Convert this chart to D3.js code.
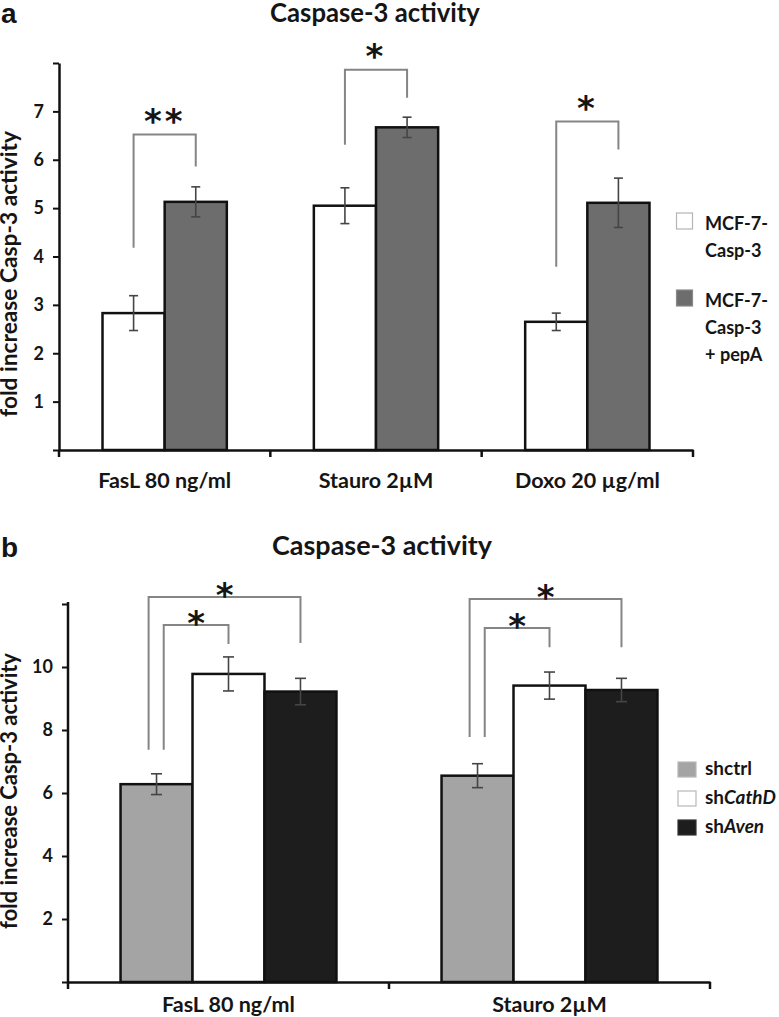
<!DOCTYPE html>
<html><head><meta charset="utf-8">
<script src="https://cdn.jsdelivr.net/npm/d3@7"></script>
<style>body{margin:0;background:#fff} svg{display:block}</style>
</head><body>
<svg id="fig" width="779" height="1017"></svg>
<script>
// ---------- Panel a data ----------
const catsA = ["FasL 80 ng/ml", "Stauro 2µM", "Doxo 20 µg/ml"];
const seriesA = ["MCF-7-Casp-3", "MCF-7-Casp-3 + pepA"];
const legendLinesA = [["MCF-7-", "Casp-3"], ["MCF-7-", "Casp-3", "+ pepA"]];
const meanCasp3 = [2.83, 5.05, 2.65];
const errCasp3 = [0.36, 0.37, 0.18];
const meanPepA = [5.13, 6.67, 5.11];
const errPepA = [0.31, 0.21, 0.51];
const tickValsA = [0, 1, 2, 3, 4, 5, 6, 7, 8];
const tickLabelsA = [1, 2, 3, 4, 5, 6, 7];
const bracketTopA = [6.52, 7.86, 6.79];
const bracketLeftEndA = [4.18, 6.31, 3.79];
const bracketRightEndA = [5.86, 7.28, 6.21];
const starsA = ["**", "*", "*"];

// ---------- Panel b data ----------
const catsB = ["FasL 80 ng/ml", "Stauro 2µM"];
const seriesB = ["shctrl", "shCathD", "shAven"];
const meanShctrl = [6.28, 6.55];
const errShctrl = [0.33, 0.38];
const meanShCathD = [9.78, 9.41];
const errShCathD = [0.54, 0.43];
const meanShAven = [9.22, 9.27];
const errShAven = [0.42, 0.37];
const tickValsB = [0, 2, 4, 6, 8, 10, 12];
const tickLabelsB = [2, 4, 6, 8, 10];
const outerTopB = [12.22, 12.16];
const outerLeftEndB = [7.37, 7.78];
const outerRightEndB = [10.76, 10.63];
const innerTopB = [11.33, 11.24];
const innerLeftEndB = [7.37, 7.78];
const innerRightEndB = [10.73, 10.63];
const starsB = ["*", "*"];

const FONT = "Lato, 'Open Sans', sans-serif";
const TXT = "#151515";
const svg = d3.select("#fig");

function fit(sel, target) {
  const w = sel.node().getComputedTextLength();
  const fs = parseFloat(sel.attr("font-size"));
  const nfs = fs * target / w;
  sel.attr("font-size", nfs);
  return nfs;
}

// ================= PANEL A =================
const yA = d3.scaleLinear().domain([0, 8]).range([450, 63]);
const xA = d3.scaleBand().domain(catsA).range([59, 693]).padding(0);
const x1A = d3.scaleBand().domain(seriesA).range([0, xA.bandwidth()]).paddingInner(0).paddingOuter(0.7);
const fillA = {"MCF-7-Casp-3": "#ffffff", "MCF-7-Casp-3 + pepA": "#6d6d6d"};

const rowsA = catsA.map((c, i) => ({cat: c, vals: [
  {s: seriesA[0], m: meanCasp3[i], e: errCasp3[i]},
  {s: seriesA[1], m: meanPepA[i], e: errPepA[i]}]}));

svg.append("text").attr("x", 1).attr("y", 23).attr("font-family", "'Liberation Sans', Arial, sans-serif")
  .attr("font-weight", "bold").attr("font-size", 28).attr("fill", TXT).text("a");
const titleA = svg.append("text").attr("x", 375).attr("y", 22).attr("text-anchor", "middle")
  .attr("font-family", FONT).attr("font-weight", "bold").attr("font-size", 22).attr("fill", TXT)
  .text("Caspase-3 activity");
fit(titleA, 210);

const gA = svg.append("g");
const grpA = gA.selectAll("g.grp").data(rowsA).join("g").attr("transform", d => `translate(${xA(d.cat)},0)`);
grpA.selectAll("rect").data(d => d.vals).join("rect")
  .attr("x", d => x1A(d.s)).attr("width", x1A.bandwidth())
  .attr("y", d => yA(d.m)).attr("height", d => yA(0) - yA(d.m))
  .attr("fill", d => fillA[d.s]).attr("stroke", "#111").attr("stroke-width", 2.5);
const ebA = grpA.selectAll("g.eb").data(d => d.vals).join("g").attr("class", "eb")
  .attr("stroke", "#454545").attr("stroke-width", 1.6);
ebA.append("line").attr("x1", d => x1A(d.s) + x1A.bandwidth() / 2).attr("x2", d => x1A(d.s) + x1A.bandwidth() / 2)
  .attr("y1", d => yA(d.m + d.e)).attr("y2", d => yA(d.m - d.e));
ebA.append("line").attr("x1", d => x1A(d.s) + x1A.bandwidth() / 2 - 4.5).attr("x2", d => x1A(d.s) + x1A.bandwidth() / 2 + 4.5)
  .attr("y1", d => yA(d.m + d.e)).attr("y2", d => yA(d.m + d.e));
ebA.append("line").attr("x1", d => x1A(d.s) + x1A.bandwidth() / 2 - 4.5).attr("x2", d => x1A(d.s) + x1A.bandwidth() / 2 + 4.5)
  .attr("y1", d => yA(d.m - d.e)).attr("y2", d => yA(d.m - d.e));

// brackets A
catsA.forEach((c, i) => {
  const xl = xA(c) + x1A(seriesA[0]) + x1A.bandwidth() / 2;
  const xr = xA(c) + x1A(seriesA[1]) + x1A.bandwidth() / 2;
  gA.append("path").attr("d", `M${xl},${yA(bracketLeftEndA[i])}V${yA(bracketTopA[i])}H${xr}V${yA(bracketRightEndA[i])}`)
    .attr("fill", "none").attr("stroke", "#858585").attr("stroke-width", 2);
  gA.append("text").attr("x", (xl + xr) / 2).attr("y", yA(bracketTopA[i]) - 2)
    .attr("text-anchor", "middle").attr("font-family", "'DejaVu Sans', sans-serif").attr("font-weight", "bold")
    .attr("font-size", 34).attr("letter-spacing", 3).attr("fill", TXT).text(starsA[i]);
});

// axes A
const yAxA = gA.append("g").attr("transform", "translate(59,0)")
  .call(d3.axisLeft(yA).tickValues(tickValsA).tickFormat(d => tickLabelsA.includes(d) ? d : "")
    .tickSize(6).tickPadding(9).tickSizeOuter(0));
const xAxA = gA.append("g").attr("transform", "translate(0,450)")
  .call(d3.axisBottom(xA).tickSize(0).tickSizeOuter(0));
[yAxA, xAxA].forEach(ax => {
  ax.select(".domain").attr("stroke", "#111").attr("stroke-width", 2.5);
  ax.selectAll(".tick line").attr("stroke", "#111").attr("stroke-width", 2);
});
yAxA.selectAll("text").attr("font-family", FONT).attr("font-weight", "bold").attr("font-size", 18).attr("fill", TXT);
const xlabA = xAxA.selectAll("text").attr("y", 38).attr("dy", 0).attr("font-family", FONT)
  .attr("font-weight", "bold").attr("font-size", 20).attr("fill", TXT);
const fsxA = fit(d3.select(xlabA.nodes()[0]), 133);
xlabA.attr("font-size", fsxA);
// band boundary ticks
const bndA = catsA.map(c => xA(c)).concat([xA.range()[1]]);
gA.selectAll("line.bt").data(bndA).join("line").attr("class", "bt")
  .attr("x1", d => d).attr("x2", d => d).attr("y1", 450).attr("y2", 457)
  .attr("stroke", "#111").attr("stroke-width", 2.5);

const ylabA = svg.append("text").attr("transform", "translate(17,274) rotate(-90)").attr("text-anchor", "middle")
  .attr("font-family", FONT).attr("font-weight", "bold").attr("font-size", 17).attr("fill", TXT)
  .text("fold increase Casp-3 activity");
fit(ylabA, 286);

// legend A
const legA = svg.append("g");
const legBase = [230, 307];
seriesA.forEach((s, i) => {
  legA.append("rect").attr("x", 676.5).attr("y", legBase[i] - 17).attr("width", 16).attr("height", 16)
    .attr("fill", fillA[s]).attr("stroke", i === 0 ? "#b5b5b5" : "#8a8a8a").attr("stroke-width", 1.2);
  legendLinesA[i].forEach((ln, j) => {
    const t = legA.append("text").attr("x", 705).attr("y", legBase[i] + j * 27)
      .attr("font-family", FONT).attr("font-weight", "bold").attr("font-size", 19).attr("fill", TXT).text(ln);
    if (i === 0 && j === 0) fit(t, 63);
    t.attr("font-size", legA.select("text").attr("font-size"));
  });
});

// ================= PANEL B =================
const yB = d3.scaleLinear().domain([0, 12]).range([982, 604]);
const xB = d3.scaleBand().domain(catsB).range([68, 710]).padding(0);
const x1B = d3.scaleBand().domain(seriesB).range([0, xB.bandwidth()]).paddingInner(0).paddingOuter(0.73);
const fillB = {shctrl: "#a4a4a4", shCathD: "#ffffff", shAven: "#1d1d1d"};
const rowsB = catsB.map((c, i) => ({cat: c, vals: [
  {s: seriesB[0], m: meanShctrl[i], e: errShctrl[i]},
  {s: seriesB[1], m: meanShCathD[i], e: errShCathD[i]},
  {s: seriesB[2], m: meanShAven[i], e: errShAven[i]}]}));

svg.append("text").attr("x", 1).attr("y", 557).attr("font-family", "'Liberation Sans', Arial, sans-serif")
  .attr("font-weight", "bold").attr("font-size", 28).attr("fill", TXT).text("b");
const titleB = svg.append("text").attr("x", 382).attr("y", 555).attr("text-anchor", "middle")
  .attr("font-family", FONT).attr("font-weight", "bold").attr("font-size", 22).attr("fill", TXT)
  .text("Caspase-3 activity");
fit(titleB, 220);

const gB = svg.append("g");
const grpB = gB.selectAll("g.grp").data(rowsB).join("g").attr("transform", d => `translate(${xB(d.cat)},0)`);
grpB.selectAll("rect").data(d => d.vals).join("rect")
  .attr("x", d => x1B(d.s)).attr("width", x1B.bandwidth())
  .attr("y", d => yB(d.m)).attr("height", d => yB(0) - yB(d.m))
  .attr("fill", d => fillB[d.s]).attr("stroke", "#111").attr("stroke-width", 2.5);
const ebB = grpB.selectAll("g.eb").data(d => d.vals).join("g").attr("class", "eb")
  .attr("stroke", "#454545").attr("stroke-width", 1.6);
ebB.append("line").attr("x1", d => x1B(d.s) + x1B.bandwidth() / 2).attr("x2", d => x1B(d.s) + x1B.bandwidth() / 2)
  .attr("y1", d => yB(d.m + d.e)).attr("y2", d => yB(d.m - d.e));
ebB.append("line").attr("x1", d => x1B(d.s) + x1B.bandwidth() / 2 - 5.5).attr("x2", d => x1B(d.s) + x1B.bandwidth() / 2 + 5.5)
  .attr("y1", d => yB(d.m + d.e)).attr("y2", d => yB(d.m + d.e));
ebB.append("line").attr("x1", d => x1B(d.s) + x1B.bandwidth() / 2 - 5.5).attr("x2", d => x1B(d.s) + x1B.bandwidth() / 2 + 5.5)
  .attr("y1", d => yB(d.m - d.e)).attr("y2", d => yB(d.m - d.e));

// brackets B
catsB.forEach((c, i) => {
  const cx = s => xB(c) + x1B(s) + x1B.bandwidth() / 2;
  const defs = [
    {xl: cx(seriesB[0]) - 0.11 * x1B.bandwidth(), xr: cx(seriesB[2]), top: outerTopB[i], le: outerLeftEndB[i], re: outerRightEndB[i]},
    {xl: cx(seriesB[0]) + 0.10 * x1B.bandwidth(), xr: cx(seriesB[1]), top: innerTopB[i], le: innerLeftEndB[i], re: innerRightEndB[i]}
  ];
  defs.forEach(b => {
    gB.append("path").attr("d", `M${b.xl},${yB(b.le)}V${yB(b.top)}H${b.xr}V${yB(b.re)}`)
      .attr("fill", "none").attr("stroke", "#858585").attr("stroke-width", 2);
    gB.append("text").attr("x", (b.xl + b.xr) / 2).attr("y", yB(b.top) + 10)
      .attr("text-anchor", "middle").attr("font-family", "'DejaVu Sans', sans-serif").attr("font-weight", "bold")
      .attr("font-size", 34).attr("fill", TXT).text(starsB[i]);
  });
});

// axes B
const yAxB = gB.append("g").attr("transform", "translate(68,0)")
  .call(d3.axisLeft(yB).tickValues(tickValsB).tickFormat(d => tickLabelsB.includes(d) ? d : "")
    .tickSize(6).tickPadding(9).tickSizeOuter(0));
yAxB.select(".domain").attr("d", `M0,${yB(0)}V602`);
const xAxB = gB.append("g").attr("transform", "translate(0,982)")
  .call(d3.axisBottom(xB).tickSize(0).tickSizeOuter(0));
[yAxB, xAxB].forEach(ax => {
  ax.select(".domain").attr("stroke", "#111").attr("stroke-width", 2.5);
  ax.selectAll(".tick line").attr("stroke", "#111").attr("stroke-width", 2);
});
yAxB.selectAll("text").attr("font-family", FONT).attr("font-weight", "bold").attr("font-size", 18).attr("fill", TXT);
const xlabB = xAxB.selectAll("text").attr("y", 30).attr("dy", 0).attr("font-family", FONT)
  .attr("font-weight", "bold").attr("font-size", 20).attr("fill", TXT);
const fsxB = fit(d3.select(xlabB.nodes()[0]), 133);
xlabB.attr("font-size", fsxB);
const bndB = catsB.map(c => xB(c)).concat([xB.range()[1]]);
gB.selectAll("line.bt").data(bndB).join("line").attr("class", "bt")
  .attr("x1", d => d).attr("x2", d => d).attr("y1", 982).attr("y2", 989)
  .attr("stroke", "#111").attr("stroke-width", 2.5);

const ylabB = svg.append("text").attr("transform", "translate(17,791) rotate(-90)").attr("text-anchor", "middle")
  .attr("font-family", FONT).attr("font-weight", "bold").attr("font-size", 17).attr("fill", TXT)
  .text("fold increase Casp-3 activity");
fit(ylabB, 276);

// legend B
const legB = svg.append("g");
const legNames = [["sh", "ctrl", false], ["sh", "CathD", true], ["sh", "Aven", true]];
let legFsB = 19;
seriesB.forEach((s, i) => {
  const base = 775 + i * 29;
  legB.append("rect").attr("x", 678).attr("y", base - 13).attr("width", 18).attr("height", 15)
    .attr("fill", fillB[s]).attr("stroke", i === 2 ? "#333" : "#b8b8b8").attr("stroke-width", 1.2);
  const t = legB.append("text").attr("x", 705).attr("y", base)
    .attr("font-family", FONT).attr("font-weight", "bold").attr("font-size", legFsB).attr("fill", TXT);
  t.append("tspan").text(legNames[i][0]);
  t.append("tspan").attr("font-style", legNames[i][2] ? "italic" : "normal").text(legNames[i][1]);
  if (i === 0) legFsB = fit(t, 47);
  t.attr("font-size", legFsB);
});
</script>
</body></html>
